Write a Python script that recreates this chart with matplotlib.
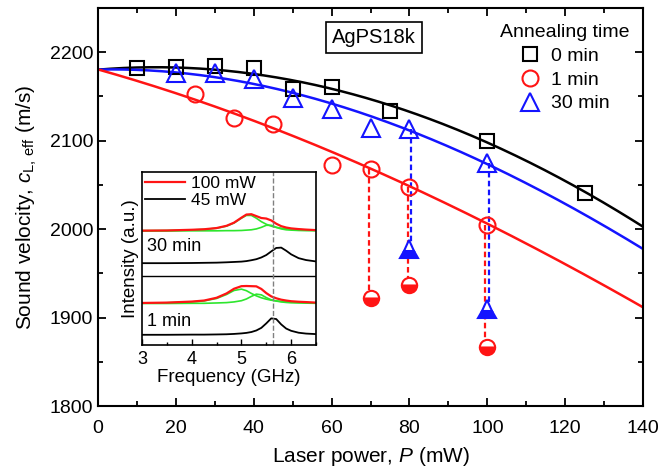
import numpy as np
import matplotlib.pyplot as plt
from matplotlib.ticker import MultipleLocator

plt.rcParams['font.family'] = ['Liberation Sans', 'DejaVu Sans']
plt.rcParams['mathtext.fontset'] = 'custom'
plt.rcParams['mathtext.rm'] = 'Liberation Sans'
plt.rcParams['mathtext.it'] = 'Liberation Sans:italic'

# ---- measured sound velocities (m/s) vs laser power (mW) ----
p_0min = [10, 20, 30, 40, 50, 60, 75, 100, 125]
v_0min = [2182, 2183, 2184, 2182, 2159, 2161, 2134, 2100, 2041]
p_1min = [25, 35, 45, 60, 70, 80, 100]
v_1min = [2153, 2126, 2119, 2072, 2068, 2048, 2005]
p_30min = [20, 30, 40, 50, 60, 70, 80, 100]
v_30min = [2176, 2176, 2170, 2148, 2136, 2114, 2113, 2075]

# second (lower) values at high power
p_1min_low = [70, 80, 100]
v_1min_low = [1922, 1937, 1867]
p_30min_low = [80, 100]
v_30min_low = [1977, 1910]

# fit curves
p_fit = [0, 20, 40, 60, 80, 100, 120, 140]
fit_0min = [2181, 2181, 2176, 2160, 2132, 2098, 2054, 2003]
fit_1min = [2181, 2153, 2122, 2088, 2050, 2005, 1960, 1912]
fit_30min = [2181, 2176, 2164, 2143, 2112, 2073, 2028, 1978]

# ---- inset spectra (arbitrary units, peak heights above baseline) ----
freq = [3.0, 3.5, 4.0, 4.25, 4.5, 4.7, 4.85, 5.0, 5.1, 5.2, 5.3,
        5.4, 5.5, 5.6, 5.7, 5.8, 5.9, 6.0, 6.15, 6.3, 6.5]
# 30 min
top_g1 = [0.002, 0.003, 0.006, 0.009, 0.016, 0.028, 0.046, 0.074, 0.090, 0.090, 0.074,
          0.054, 0.039, 0.028, 0.021, 0.016, 0.013, 0.010, 0.008, 0.006, 0.004]
top_g2 = [0.000, 0.000, 0.001, 0.001, 0.001, 0.002, 0.002, 0.003, 0.005, 0.007, 0.012,
          0.021, 0.033, 0.033, 0.021, 0.012, 0.007, 0.005, 0.003, 0.002, 0.001]
top_45 = [0.001, 0.001, 0.002, 0.003, 0.004, 0.006, 0.008, 0.010, 0.013, 0.018, 0.024,
          0.034, 0.048, 0.069, 0.089, 0.091, 0.073, 0.052, 0.030, 0.019, 0.011]
# 1 min
bot_g1 = [0.003, 0.005, 0.010, 0.016, 0.030, 0.053, 0.076, 0.084, 0.075, 0.059, 0.045,
          0.034, 0.026, 0.020, 0.016, 0.013, 0.011, 0.009, 0.007, 0.006, 0.004]
bot_g2 = [0.001, 0.001, 0.002, 0.002, 0.004, 0.006, 0.010, 0.017, 0.027, 0.042, 0.055,
          0.051, 0.035, 0.022, 0.015, 0.010, 0.007, 0.005, 0.004, 0.003, 0.002]
bot_45 = [0.001, 0.001, 0.002, 0.002, 0.003, 0.004, 0.006, 0.009, 0.012, 0.017, 0.026,
          0.041, 0.067, 0.096, 0.092, 0.061, 0.037, 0.024, 0.013, 0.008, 0.005]
base_top_100, base_top_45 = 0.659, 0.472
base_bot_100, base_bot_45 = 0.239, 0.058

BLUE = '#1414ff'
RED = '#ff1414'
GREEN = '#2ee62e'

fig = plt.figure(figsize=(6.6, 4.72), dpi=100)
ax = fig.add_axes([0.1485, 0.1398, 0.8258, 0.8432])

# fit lines (smooth through the read points)
pp = np.linspace(0, 140, 300)
for vals, col in [(fit_0min, 'black'), (fit_30min, BLUE), (fit_1min, RED)]:
    coef = np.polyfit(p_fit, vals, 3)
    ax.plot(pp, np.polyval(coef, pp), color=col, lw=1.8, zorder=2)

# dashed drops from upper to lower value
dash = dict(ls=(0, (2.5, 1.5)), lw=1.6, zorder=1)
for p, v_lo in zip(p_1min_low, v_1min_low):
    v_hi = v_1min[p_1min.index(p)]
    ax.plot([p - 0.5, p - 0.5], [v_hi, v_lo], color=RED, **dash)
for p, v_lo in zip(p_30min_low, v_30min_low):
    v_hi = v_30min[p_30min.index(p)]
    ax.plot([p + 0.5, p + 0.5], [v_hi, v_lo], color=BLUE, **dash)

ax.plot(p_0min, v_0min, 's', ms=10, mfc='none', mec='black', mew=1.5, label='0 min', zorder=3)
ax.plot(p_1min, v_1min, 'o', ms=11.5, mfc='none', mec=RED, mew=1.5, label='1 min', zorder=3)
ax.plot(p_30min, v_30min, '^', ms=13, mfc='none', mec=BLUE, mew=1.5, label='30 min', zorder=3)
ax.plot(p_1min_low, v_1min_low, 'o', ms=11, color=RED, fillstyle='bottom',
        mfc=RED, mfcalt='white', mec=RED, mew=1.5, zorder=3)
ax.plot(p_30min_low, v_30min_low, '^', ms=13, color=BLUE, fillstyle='bottom',
        mfc=BLUE, mfcalt='white', mec=BLUE, mew=1.5, zorder=3)

ax.set_xlim(0, 140)
ax.set_ylim(1800, 2250)
ax.xaxis.set_major_locator(MultipleLocator(20))
ax.xaxis.set_minor_locator(MultipleLocator(10))
ax.yaxis.set_major_locator(MultipleLocator(100))
ax.yaxis.set_minor_locator(MultipleLocator(50))
ax.tick_params(which='both', direction='in', top=True, right=True, width=1.3, labelsize=14)
ax.tick_params(which='major', length=6)
ax.tick_params(which='minor', length=3.5)
ax.tick_params(axis='x', pad=10)
for s in ax.spines.values():
    s.set_linewidth(1.5)
ax.set_xlabel('Laser power, $P$ (mW)', fontsize=15, labelpad=6)
ax.set_ylabel('Sound velocity, $c_{\\rm L,\\,eff}$ (m/s)', fontsize=15, labelpad=8)

ax.text(70.9, 2217, 'AgPS18k', fontsize=14.5, ha='center', va='center',
        bbox=dict(boxstyle='square,pad=0.3', fc='white', ec='black', lw=1.2))

leg = ax.legend(loc='upper right', bbox_to_anchor=(630 / 660, 1 - 24 / 472),
                bbox_transform=fig.transFigure, frameon=False,
                title='Annealing time', fontsize=14, title_fontsize=14,
                handlelength=1.0, handletextpad=0.6, labelspacing=0.32,
                borderaxespad=0, borderpad=0)

# ---- inset ----
ins = fig.add_axes([142 / 660, 1 - 345 / 472, 174 / 660, 173 / 472])
f = np.array(freq)
ins.plot(f, base_top_100 + np.array(top_g1), color=GREEN, lw=1.2)
ins.plot(f, base_top_100 + np.array(top_g2), color=GREEN, lw=1.2)
ins.plot(f, base_top_100 + np.array(top_g1) + np.array(top_g2), color=RED, lw=1.6, label='100 mW')
ins.plot(f, base_top_45 + np.array(top_45), color='black', lw=1.3, label='45 mW')
ins.plot(f, base_bot_100 + np.array(bot_g1), color=GREEN, lw=1.2)
ins.plot(f, base_bot_100 + np.array(bot_g2), color=GREEN, lw=1.2)
ins.plot(f, base_bot_100 + np.array(bot_g1) + np.array(bot_g2), color=RED, lw=1.6)
ins.plot(f, base_bot_45 + np.array(bot_45), color='black', lw=1.3)
ins.axhline(0.40, color='black', lw=1.0)
ins.axvline(5.64, color='gray', ls='--', lw=1.0)
ins.text(3.1, 0.568, '30 min', fontsize=13, va='center')
ins.text(3.1, 0.135, '1 min', fontsize=13, va='center')
ins.set_xlim(3, 6.5)
ins.set_ylim(0, 1)
ins.set_yticks([])
ins.xaxis.set_major_locator(MultipleLocator(1))
ins.xaxis.set_minor_locator(MultipleLocator(0.5))
ins.tick_params(which='both', direction='in', labelsize=13, width=1.0, pad=4)
ins.tick_params(which='major', length=4)
ins.tick_params(which='minor', length=2.5)
for s in ins.spines.values():
    s.set_linewidth(1.2)
ins.set_xlabel('Frequency (GHz)', fontsize=13.5, labelpad=1)
ins.set_ylabel('Intensity (a.u.)', fontsize=13.5, labelpad=2)
ins.legend(loc='upper left', frameon=False, fontsize=12.5, handlelength=2.3,
           borderaxespad=0.1, borderpad=0.1, labelspacing=0.15, handletextpad=0.3)

fig.savefig('out.png', dpi=100)
